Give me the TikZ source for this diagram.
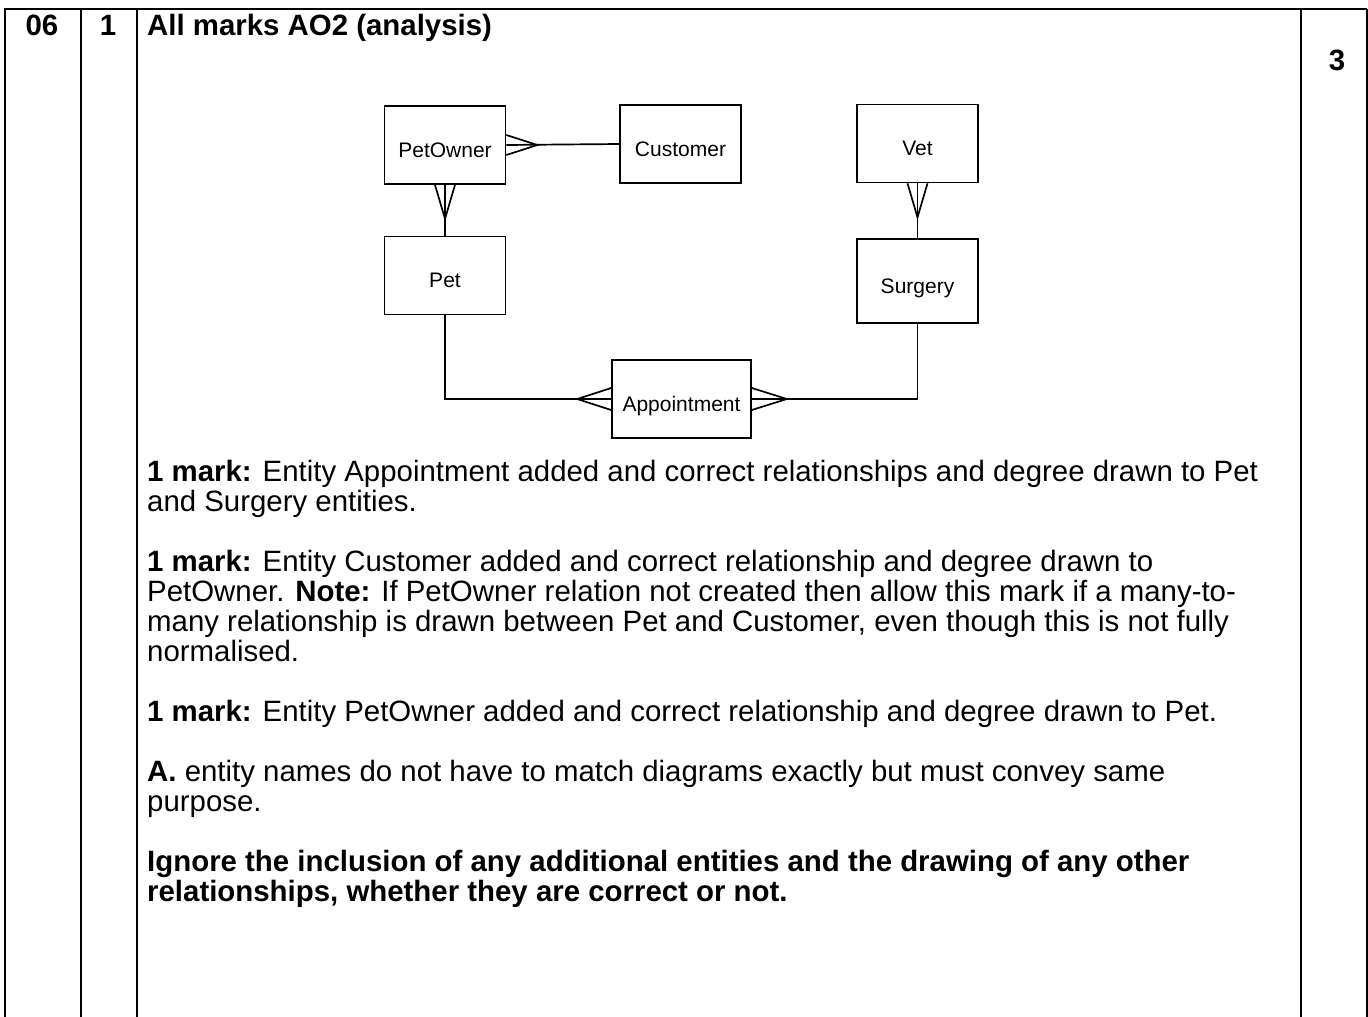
\documentclass[tikz,border=0pt]{standalone}
\usepackage{fontspec}
\setmainfont{Liberation Sans}
\newcommand{\firstln}{\rule{0pt}{23pt}}
\begin{document}
\begin{tikzpicture}[x=1pt,y=-1pt,
  entity/.style={draw,line width=1.7pt,minimum width=121pt,minimum height=78pt,
    inner sep=0pt,text height=24pt,text depth=0pt,font=\fontsize{21}{24}\selectfont},
  rel/.style={line width=1.7pt},
  gridline/.style={line width=2.4pt},
  txt/.style={anchor=north west,inner sep=0pt,align=left,
    font=\fontsize{29.4}{30}\selectfont}]
\useasboundingbox (0,0) rectangle (1368,1017);
% table rules
\draw[gridline] (5,1017)--(5,9)--(1367,9);
\draw[gridline] (81,9)--(81,1017);
\draw[gridline] (137,9)--(137,1017);
\draw[gridline] (1301,9)--(1301,1017);
\draw[gridline] (1367,9)--(1367,1017);
% header cells
\node[anchor=base,inner sep=0pt,font=\fontsize{29.4}{30}\selectfont\bfseries] (qno) at (42,35) {06};
\node[anchor=base,inner sep=0pt,font=\fontsize{29.4}{30}\selectfont\bfseries] (part) at (108,35) {1};
\node[anchor=base west,inner sep=0pt,font=\fontsize{29.4}{30}\selectfont\bfseries] (head) at (147,35) {All marks AO2 (analysis)};
\node[anchor=base,inner sep=0pt,font=\fontsize{29.4}{30}\selectfont\bfseries] (marks) at (1337,70) {3};
% entities
\node[entity] (po) at (445,145) {PetOwner};
\node[entity] (cust) at (680.5,144) {Customer};
\node[entity] (vet) at (917.5,143.5) {Vet};
\node[entity] (pet) at (445,275.5) {Pet};
\node[entity,minimum height=84pt] (surg) at (917.5,281) {Surgery};
\node[entity,minimum width=139pt] (appt) at (681.5,399) {Appointment};
% relationships
\draw[rel] (cust.west)--(po.east);
\draw[rel] ([yshift=10pt]po.east)--([xshift=31pt]po.east)--([yshift=-10pt]po.east);
\draw[rel] (pet.north)--(po.south);
\draw[rel] ([xshift=-10pt]po.south)--([yshift=-34pt]po.south)--([xshift=10pt]po.south);
\draw[rel] (surg.north)--(vet.south);
\draw[rel] ([xshift=-10pt]vet.south)--([yshift=-34pt]vet.south)--([xshift=10pt]vet.south);
\draw[rel] (pet.south)|-(appt.west);
\draw[rel] ([yshift=11pt]appt.west)--([xshift=-34pt]appt.west)--([yshift=-11pt]appt.west);
\draw[rel] (surg.south)|-(appt.east);
\draw[rel] ([yshift=11pt]appt.east)--([xshift=35pt]appt.east)--([yshift=-11pt]appt.east);
% mark scheme text
\node[txt] (m1) at (147,458) {\firstln\textbf{1 mark:} Entity Appointment added and correct relationships and degree drawn to Pet\\
and Surgery entities.};
\node[txt] (m2) at (147,548) {\firstln\textbf{1 mark:} Entity Customer added and correct relationship and degree drawn to\\
PetOwner. \textbf{Note:} If PetOwner relation not created then allow this mark if a many-to-\\
many relationship is drawn between Pet and Customer, even though this is not fully\\
normalised.};
\node[txt] (m3) at (147,698) {\firstln\textbf{1 mark:} Entity PetOwner added and correct relationship and degree drawn to Pet.};
\node[txt] (acc) at (147,758) {\firstln\textbf{A.} entity names do not have to match diagrams exactly but must convey same\\
purpose.};
\node[txt,font=\fontsize{29.4}{30}\selectfont\bfseries] (ign) at (147,848) {\firstln Ignore the inclusion of any additional entities and the drawing of any other\\
relationships, whether they are correct or not.};
\end{tikzpicture}
\end{document}
